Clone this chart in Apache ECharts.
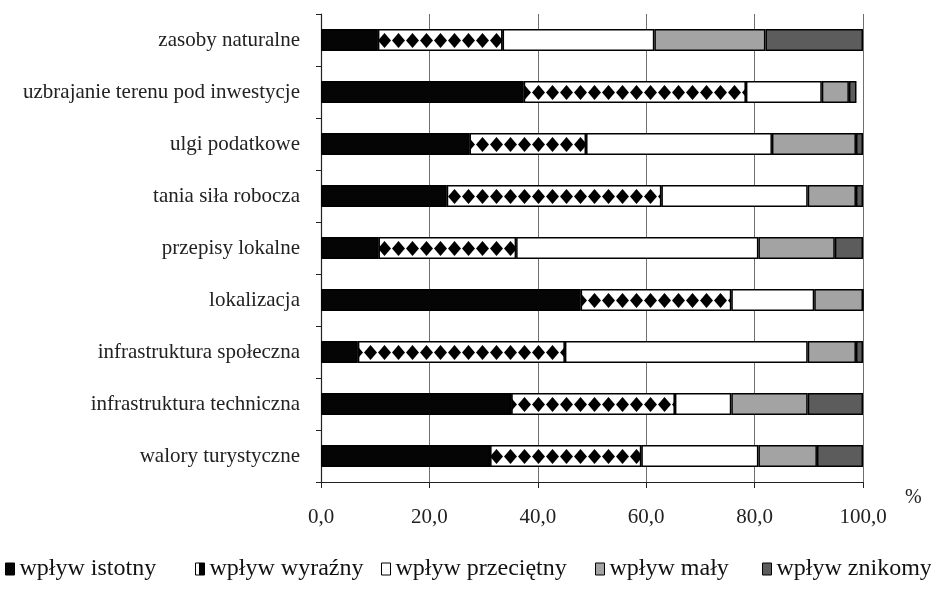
<!DOCTYPE html>
<html>
<head>
<meta charset="utf-8">
<script src="https://cdn.jsdelivr.net/npm/echarts@6/dist/echarts.min.js"></script>
<style>
  html, body { margin: 0; padding: 0; background: #fff; }
  #chart { width: 931px; height: 609px; }
</style>
</head>
<body>
<div id="chart"></div>
<script>
// categories listed top to bottom
const categories = [
  "zasoby naturalne",
  "uzbrajanie terenu pod inwestycje",
  "ulgi podatkowe",
  "tania siła robocza",
  "przepisy lokalne",
  "lokalizacja",
  "infrastruktura społeczna",
  "infrastruktura techniczna",
  "walory turystyczne"
];
const seriesNames = ["wpływ istotny", "wpływ wyraźny", "wpływ przeciętny", "wpływ mały", "wpływ znikomy"];

const istotny    = [10.5, 37.4, 27.4, 23.2, 10.6, 47.9,  6.8, 35.1, 31.2];
const wyrazny    = [23.0, 41.0, 21.5, 39.6, 25.4, 27.8, 38.2, 30.2, 27.9];
const przecietny = [28.0, 14.0, 34.3, 27.0, 44.7, 15.3, 44.8, 10.4, 21.6];
const maly       = [20.5,  5.0, 15.5,  8.9, 14.1,  9.0,  8.9, 14.1, 10.8];
const znikomy    = [18.0,  1.4,  1.3,  1.3,  5.2,  0.0,  1.3, 10.2,  8.5];

const xTicks = [0, 20, 40, 60, 80, 100];

const chart = echarts.init(document.getElementById("chart"));

const font = "'Liberation Serif', 'DejaVu Serif', serif";
const border = { borderColor: "#000", borderWidth: 1.5 };

// white band with black diamonds, rows lined up with the 52px category bands
const diamondDecal = {
  symbol: "diamond",
  symbolSize: 1,
  color: "#000",
  backgroundColor: "#fff",
  dashArrayX: [13, 1],
  dashArrayY: [1, 32, 15, 4],
  rotation: 0
};

const colors = ["#050505", "#ffffff", "#ffffff", "#a3a3a3", "#5c5c5c"];
const values = [istotny, wyrazny, przecietny, maly, znikomy];

const series = seriesNames.map((name, i) => ({
  name: name,
  type: "bar",
  stack: "all",
  barWidth: 22,
  data: values[i],
  itemStyle: Object.assign(
    { color: colors[i] },
    border,
    i === 1 ? { decal: diamondDecal } : {}
  ),
  emphasis: { disabled: true },
  animation: false
}));

// half black / half white icon for the patterned series
const halfIcon = new echarts.graphic.LinearGradient(0, 0, 1, 0, [
  { offset: 0, color: "#fff" }, { offset: 0.4, color: "#fff" },
  { offset: 0.41, color: "#000" }, { offset: 1, color: "#000" }
]);

// one legend per item so they sit where the reference has them
const legendLeft = [5, 195, 381, 595, 762];
const legends = seriesNames.map((name, i) => ({
  data: [name],
  left: legendLeft[i],
  top: 557,
  padding: 0,
  icon: "rect",
  itemWidth: 9,
  itemHeight: 12,
  itemStyle: Object.assign(
    { borderColor: "#000", borderWidth: 1, decal: "none" },
    i === 1 ? { color: halfIcon } : {}
  ),
  textStyle: { fontFamily: font, fontSize: 24, color: "#111" },
  selectedMode: false
}));

const option = {
  animation: false,
  aria: { enabled: false },
  grid: { left: 321, right: 68, top: 14, bottom: 127, containLabel: false },
  legend: legends,
  xAxis: {
    type: "value",
    min: xTicks[0],
    max: xTicks[xTicks.length - 1],
    interval: 20,
    name: "%",
    nameLocation: "end",
    nameGap: 42,
    nameTextStyle: {
      fontFamily: font, fontSize: 20, color: "#222",
      verticalAlign: "top", lineHeight: 20, padding: [6, 0, 0, 0]
    },
    axisLine: { show: true, lineStyle: { color: "#222", width: 1.2 } },
    axisTick: { show: true, length: 6, lineStyle: { color: "#222" } },
    axisLabel: {
      margin: 25,
      fontFamily: font,
      fontSize: 21,
      color: "#222",
      formatter: (v) => v.toFixed(1).replace(".", ",")
    },
    splitLine: { show: true, lineStyle: { color: "#6f6f6f", width: 1 } }
  },
  yAxis: {
    type: "category",
    data: categories,
    inverse: true,
    axisLine: { show: true, lineStyle: { color: "#222", width: 1.2 } },
    axisTick: { show: true, length: 5, lineStyle: { color: "#222" } },
    axisLabel: { margin: 21, fontFamily: font, fontSize: 21, color: "#222" },
    splitLine: { show: false }
  },
  series: series
};

chart.setOption(option);
</script>
</body>
</html>
